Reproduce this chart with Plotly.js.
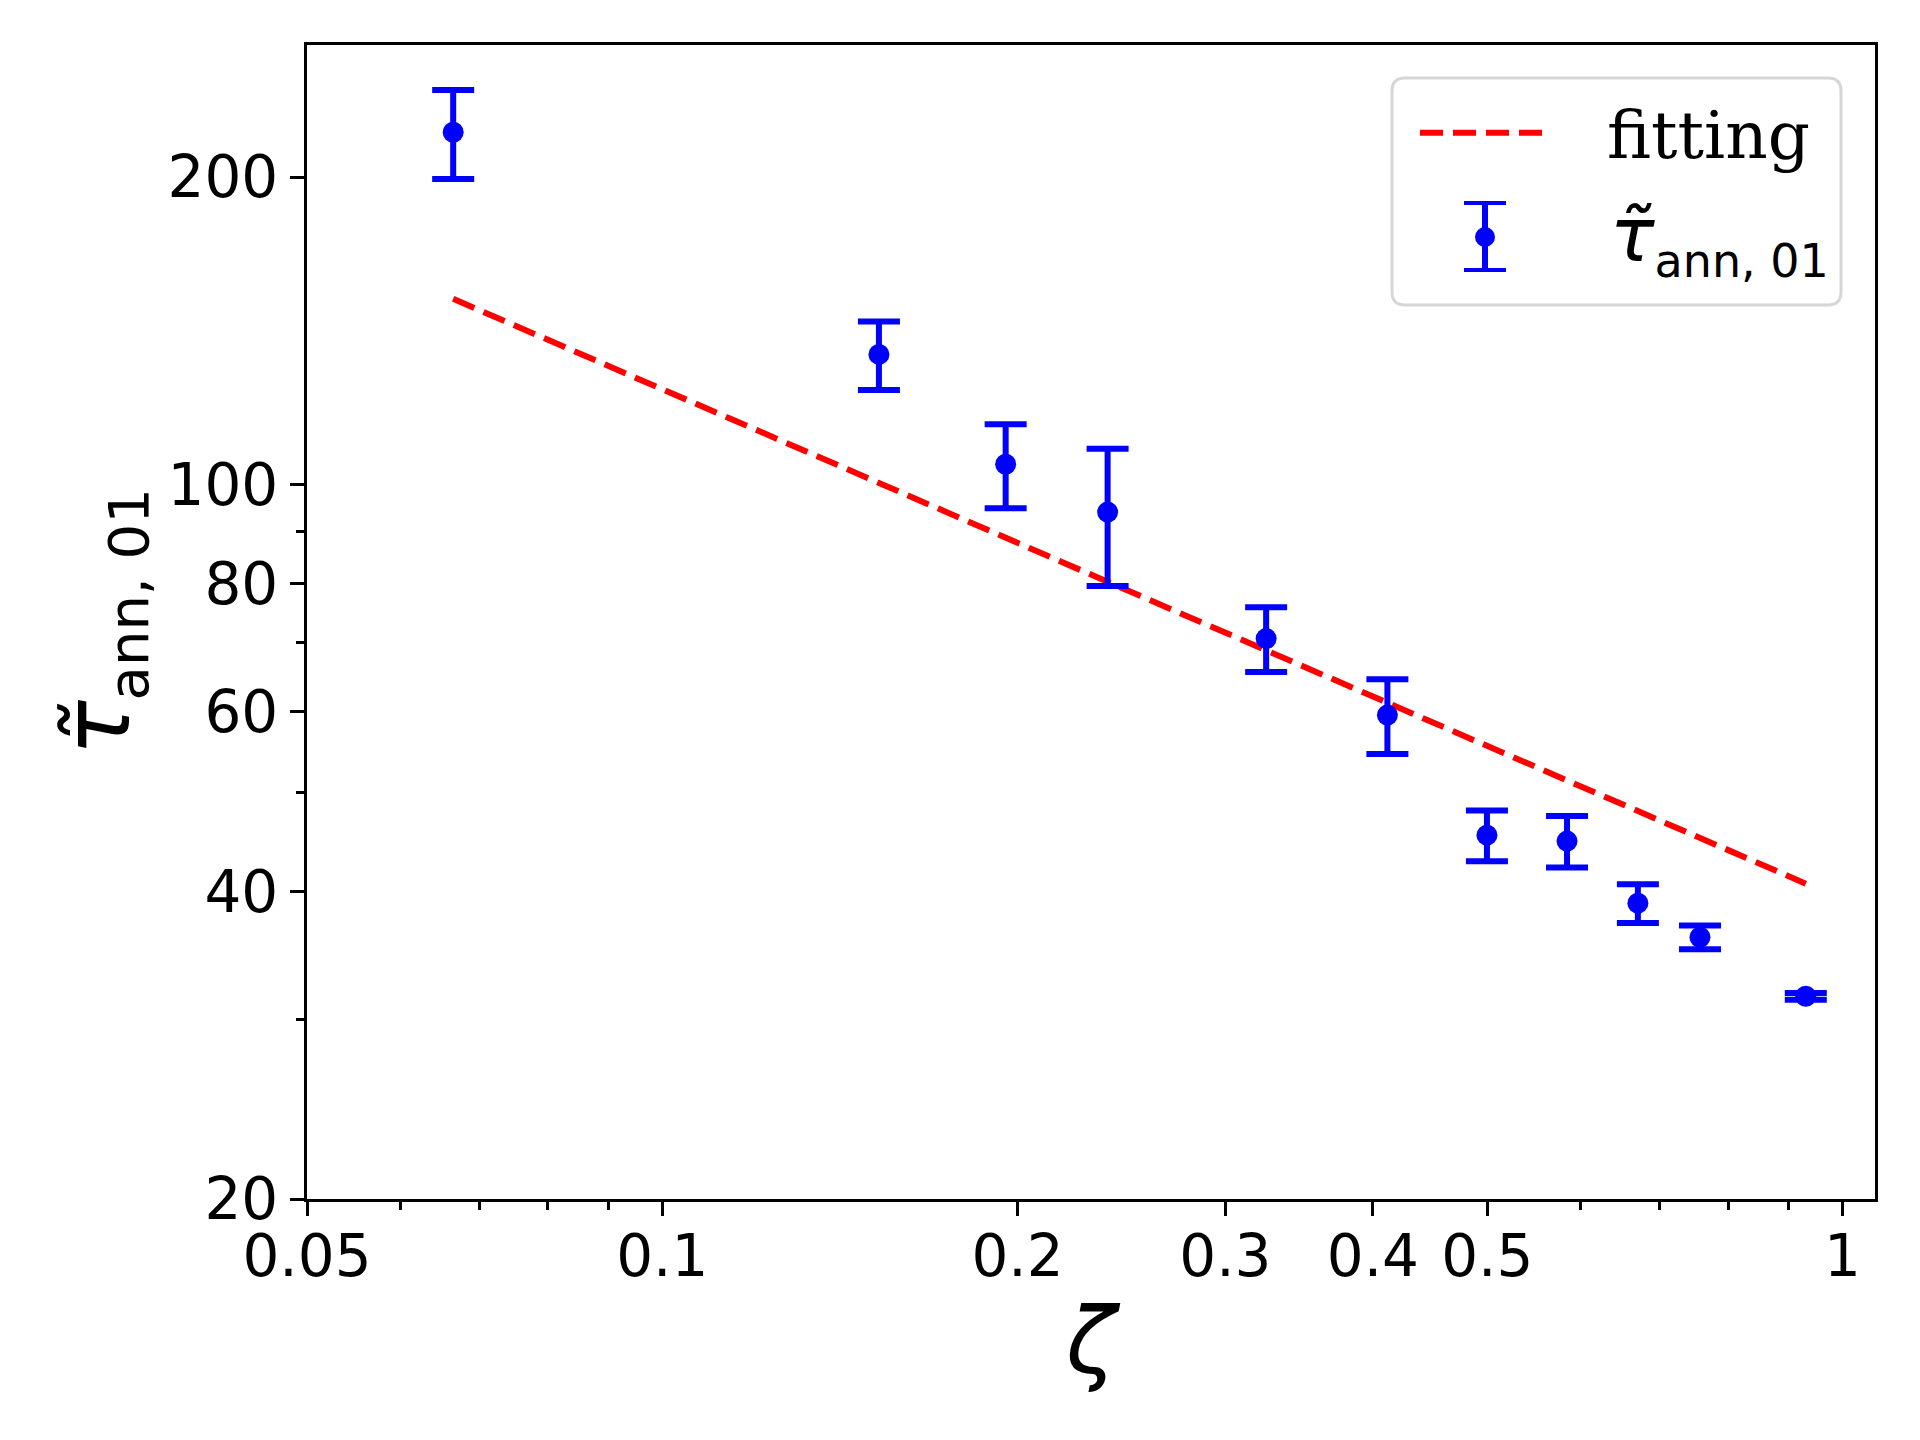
<!DOCTYPE html>
<html>
<head>
<meta charset="utf-8">
<script src="https://cdn.plot.ly/plotly-3.0.1.min.js"></script>
<style>
  html, body { margin: 0; padding: 0; background: #fff; }
  #tau_plot { width: 1920px; height: 1440px; }
</style>
</head>
<body>
<div id="tau_plot"></div>
<script>
// values
const zeta    = [0.0665, 0.1526, 0.1954, 0.2384, 0.3248, 0.4115, 0.4997, 0.5842, 0.6708, 0.7572, 0.9308];
const tau     = [221.2, 134.1, 104.7, 94.0, 70.7, 59.5, 45.4, 44.8, 38.95, 36.07, 31.58];
const tauErr  = [22.1, 10.3, 9.9, 14.4, 5.15, 5.0, 2.6, 2.6, 1.7, 0.97, 0.24];

const fitZeta = [0.0665, 0.9308];
const fitTau  = [152.0, 40.7];

const xTicks  = [0.05, 0.1, 0.2, 0.3, 0.4, 0.5, 1];
const xLabels = ['0.05', '0.1', '0.2', '0.3', '0.4', '0.5', '1'];
const xMinor  = [0.06, 0.07, 0.08, 0.09, 0.6, 0.7, 0.8, 0.9];
const yTicks  = [20, 40, 60, 80, 100, 200];
const yLabels = ['20', '40', '60', '80', '100', '200'];
const yMinor  = [30, 50, 70, 90];

const fitName = 'fitting';
const tauName = '<i>τ̃</i><sub><span style="font-size:46px">ann, 01</span></sub>';

// plot area in pixels, used to place the hand drawn legend box
const plotL = 307, plotT = 45, plotW = 1568, plotH = 1154;
function px(v) { return (v - plotL) / plotW; }
function py(v) { return 1 - (v - plotT) / plotH; }

function legendShapes() {
    let l = 1392, r = 1841, t = 78, b = 305, rad = 13;
    let rx = rad / plotW, ry = rad / plotH;
    let L = px(l), R = px(r), T = py(t), B = py(b);
    let box = 'M' + (L + rx) + ',' + T +
        ' L' + (R - rx) + ',' + T + ' Q' + R + ',' + T + ' ' + R + ',' + (T - ry) +
        ' L' + R + ',' + (B + ry) + ' Q' + R + ',' + B + ' ' + (R - rx) + ',' + B +
        ' L' + (L + rx) + ',' + B + ' Q' + L + ',' + B + ' ' + L + ',' + (B + ry) +
        ' L' + L + ',' + (T - ry) + ' Q' + L + ',' + T + ' ' + (L + rx) + ',' + T + ' Z';

    let blue = '#0000ff';
    let ex = 1485, cy = 237;
    return [
        {type: 'path', xref: 'paper', yref: 'paper', path: box,
         fillcolor: 'rgba(255,255,255,0.8)', line: {color: '#d6d6d6', width: 3}},
        {type: 'line', xref: 'paper', yref: 'paper',
         x0: px(1420), x1: px(1551), y0: py(132.7), y1: py(132.7),
         line: {color: '#ff0000', width: 6, dash: '23px,10px'}},
        {type: 'line', xref: 'paper', yref: 'paper',
         x0: px(ex), x1: px(ex), y0: py(203), y1: py(270),
         line: {color: blue, width: 6}},
        {type: 'line', xref: 'paper', yref: 'paper',
         x0: px(ex - 21), x1: px(ex + 21), y0: py(203), y1: py(203),
         line: {color: blue, width: 4}},
        {type: 'line', xref: 'paper', yref: 'paper',
         x0: px(ex - 21), x1: px(ex + 21), y0: py(270), y1: py(270),
         line: {color: blue, width: 4}},
        {type: 'circle', xref: 'paper', yref: 'paper',
         x0: px(ex - 10), x1: px(ex + 10), y0: py(cy - 10), y1: py(cy + 10),
         fillcolor: blue, line: {color: blue, width: 0}}
    ];
}

function tauGraph() {

    let TESTER = document.getElementById('tau_plot');

    var fitting = {
        x: fitZeta,
        y: fitTau,
        mode: 'lines',
        line: {color: '#ff0000', width: 6, dash: '23px,10px'},
        name: fitName,
        showlegend: false
    };

    var points = {
        x: zeta,
        y: tau,
        mode: 'markers',
        marker: {color: '#0000ff', size: 21},
        error_y: {
            type: 'data',
            array: tauErr,
            visible: true,
            color: '#0000ff',
            thickness: 6,
            width: 21
        },
        name: tauName,
        showlegend: false
    };

    var veri = [fitting, points];

    var axisFont = {family: 'DejaVu Sans', size: 58, color: '#000'};

    var layout = {
        width: 1920,
        height: 1440,
        margin: {l: plotL, r: 1920 - plotL - plotW, t: plotT, b: 1440 - plotT - plotH},
        paper_bgcolor: '#fff',
        plot_bgcolor: '#fff',

        xaxis: {
            type: 'log',
            range: [Math.log10(0.05), 0.0275],
            tickmode: 'array',
            tickvals: xTicks,
            ticktext: xLabels,
            ticks: 'outside',
            ticklen: 14,
            tickwidth: 3.3,
            tickcolor: '#000',
            tickfont: axisFont,
            ticklabelstandoff: -10,
            minor: {tickmode: 'array', tickvals: xMinor, ticks: 'outside', ticklen: 8, tickwidth: 2.5, tickcolor: '#000', showgrid: false},
            showgrid: false,
            zeroline: false,
            showline: true,
            linecolor: '#000',
            linewidth: 3.3,
            mirror: true,
            title: {
                text: '<i>ζ</i>',
                font: {family: 'DejaVu Sans', size: 92, color: '#000'},
                standoff: 20
            }
        },

        yaxis: {
            type: 'log',
            range: [Math.log10(20), 2.4302],
            tickmode: 'array',
            tickvals: yTicks,
            ticktext: yLabels,
            ticks: 'outside',
            ticklen: 14,
            tickwidth: 3.3,
            tickcolor: '#000',
            tickfont: axisFont,
            ticklabelstandoff: 0,
            minor: {tickmode: 'array', tickvals: yMinor, ticks: 'outside', ticklen: 8, tickwidth: 2.5, tickcolor: '#000', showgrid: false},
            showgrid: false,
            zeroline: false,
            showline: true,
            linecolor: '#000',
            linewidth: 3.3,
            mirror: true,
            title: {
                text: '<i>τ̃</i><sub><span style="font-size:56px">ann, 01</span></sub>',
                font: {family: 'DejaVu Sans', size: 92, color: '#000'},
                standoff: 8
            }
        },

        showlegend: false,
        shapes: legendShapes(),
        annotations: [
            {xref: 'paper', yref: 'paper', x: px(1605), y: py(135), xanchor: 'left', yanchor: 'middle',
             showarrow: false, text: fitName,
             font: {family: 'DejaVu Serif', size: 66, color: '#000'}},
            {xref: 'paper', yref: 'paper', x: px(1608), y: py(240), xanchor: 'left', yanchor: 'middle',
             showarrow: false, text: tauName,
             font: {family: 'DejaVu Sans', size: 74, color: '#000'}}
        ]
    };

    Plotly.newPlot(TESTER, veri, layout, {displayModeBar: false});
}

tauGraph();
</script>
</body>
</html>
